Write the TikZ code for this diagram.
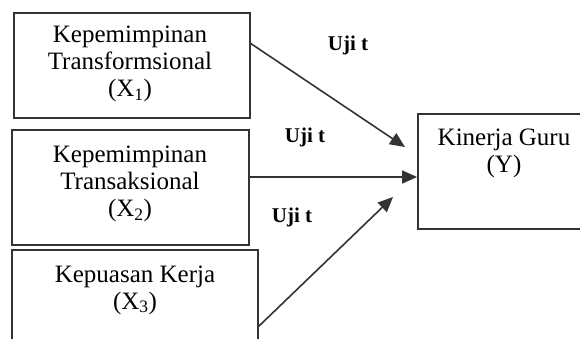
\documentclass[tikz,border=0pt]{standalone}
\usepackage{fontspec}
\setmainfont{Liberation Serif}
\usetikzlibrary{arrows.meta}
\begin{document}
\begin{tikzpicture}[x=1pt,y=-1pt,
  box/.style={draw=black!80,line width=1.8pt,minimum width=#1,inner sep=0pt},
  lbl/.style={font=\fontsize{25}{27}\selectfont,align=center,inner sep=0pt},
  uji/.style={font=\fontsize{21}{22}\selectfont\bfseries,inner sep=0pt},
  arr/.style={draw=black!80,line width=1.6pt,-{Triangle[length=15pt,width=13pt]}}]
\useasboundingbox (0,0) rectangle (580,338);
\begin{scope}
\clip (0,0) rectangle (580,338);
\node[box=236pt,minimum height=105pt] (b1) at (132,65.5) {};
\node[box=237pt,minimum height=115pt] (b2) at (130.5,187.5) {};
\node[box=246pt,minimum height=100pt] (b3) at (135,300) {};
\node[box=172pt,minimum height=115pt] (y) at (504,171.5) {};
\end{scope}
\node[lbl] (t1) at (130,64) {Kepemimpinan\\Transformsional\\(X\textsubscript{1})};
\node[lbl] (t2) at (130,184) {Kepemimpinan\\Transaksional\\(X\textsubscript{2})};
\node[lbl] (t3) at (135,290) {Kepuasan Kerja\\(X\textsubscript{3})};
\node[lbl] (ty) at (504,153) {Kinerja Guru\\(Y)};
\coordinate (s1) at (250,43);
\coordinate (e1) at (405,147);
\coordinate (s2) at (249,177);
\coordinate (s3) at (258,327);
\coordinate (e3) at (393,197);
\draw[arr] (s1) -- (e1);
\draw[arr] (s2) -- (y.west |- s2);
\draw[arr] (s3) -- (e3);
\node[uji] (u1) at (348,45) {Uji t};
\node[uji] (u2) at (305,137) {Uji t};
\node[uji] (u3) at (292,217) {Uji t};
\end{tikzpicture}
\end{document}
